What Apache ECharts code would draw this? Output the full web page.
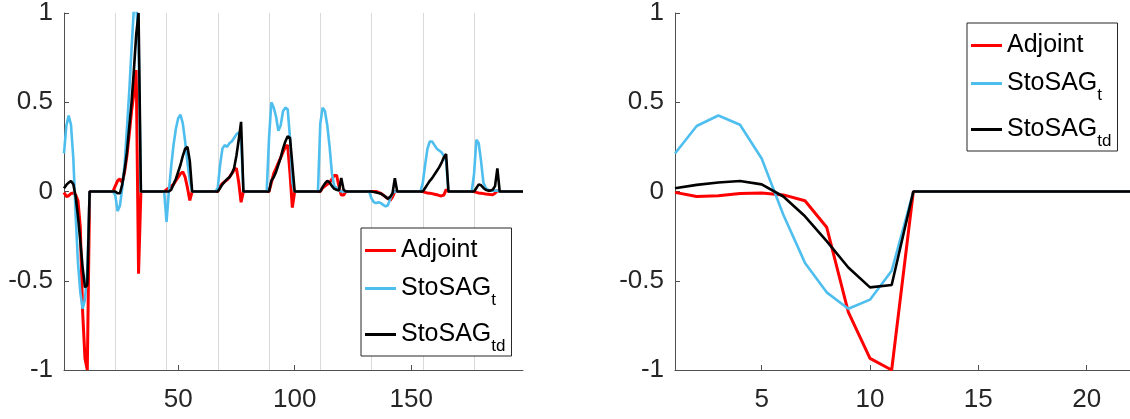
<!DOCTYPE html>
<html>
<head>
<meta charset="utf-8">
<script src="https://cdn.jsdelivr.net/npm/echarts@6/dist/echarts.min.js"></script>
<style>
  html, body { margin: 0; padding: 0; background: #fff; }
  #chart { width: 1130px; height: 419px; }
</style>
</head>
<body>
<div id="chart"></div>
<script>
// 9 control steps x 22 wells, one row per step
var adjoint = [
  -0.005, -0.028, -0.024, -0.011, -0.009, -0.019, -0.052, -0.2, -0.676, -0.935, -1.0, 0, 0, 0, 0, 0, 0, 0, 0, 0, 0, 0,
  0.03, 0.06, 0.07, 0.05, 0.11, 0.2, 0.32, 0.45, 0.55, 0.68, -0.46, 0, 0, 0, 0, 0, 0, 0, 0, 0, 0, 0,
  0.01, 0.02, 0.03, 0.04, 0.06, 0.08, 0.1, 0.11, 0.08, 0.02, -0.05, 0, 0, 0, 0, 0, 0, 0, 0, 0, 0, 0,
  0, 0.03, 0.045, 0.055, 0.065, 0.08, 0.1, 0.12, 0.13, 0.05, -0.06, 0, 0, 0, 0, 0, 0, 0, 0, 0, 0, 0,
  0, 0.05, 0.1, 0.13, 0.16, 0.19, 0.22, 0.25, 0.26, 0.1, -0.09, 0, 0, 0, 0, 0, 0, 0, 0, 0, 0, 0,
  0, 0.02, 0.03, 0.04, 0.05, 0.07, 0.09, 0.09, 0.03, -0.02, -0.02, 0, 0, 0, 0, 0, 0, 0, 0, 0, 0, 0,
  0, 0, 0, -0.005, -0.01, -0.02, -0.03, -0.04, -0.05, -0.03, 0, 0, 0, 0, 0, 0, 0, 0, 0, 0, 0, 0,
  0, -0.005, -0.008, -0.01, -0.012, -0.015, -0.018, -0.022, -0.025, -0.02, 0.01, 0, 0, 0, 0, 0, 0, 0, 0, 0, 0, 0,
  0, -0.005, -0.008, -0.01, -0.012, -0.014, -0.015, -0.017, -0.018, -0.01, 0.005, 0, 0, 0, 0, 0, 0, 0, 0, 0, 0, 0
]
var stosagT = [
  0.213, 0.367, 0.426, 0.374, 0.185, -0.13, -0.4, -0.565, -0.657, -0.606, -0.444, 0, 0, 0, 0, 0, 0, 0, 0, 0, 0, 0,
  -0.02, -0.11, -0.08, 0.02, 0.15, 0.35, 0.56, 0.8, 1.03, 1.04, 0.85, 0, 0, 0, 0, 0, 0, 0, 0, 0, 0, 0,
  -0.17, 0.0, 0.14, 0.26, 0.35, 0.41, 0.43, 0.38, 0.28, 0.16, 0.06, 0, 0, 0, 0, 0, 0, 0, 0, 0, 0, 0,
  0.02, 0.15, 0.24, 0.26, 0.25, 0.27, 0.28, 0.3, 0.32, 0.33, 0.3, 0, 0, 0, 0, 0, 0, 0, 0, 0, 0, 0,
  0.3, 0.5, 0.47, 0.42, 0.34, 0.37, 0.45, 0.47, 0.46, 0.3, 0.05, 0, 0, 0, 0, 0, 0, 0, 0, 0, 0, 0,
  0.38, 0.47, 0.45, 0.37, 0.25, 0.1, 0.03, 0.02, 0.01, 0.0, 0.0, 0, 0, 0, 0, 0, 0, 0, 0, 0, 0, 0,
  -0.04, -0.06, -0.065, -0.06, -0.065, -0.075, -0.083, -0.078, -0.04, -0.01, 0, 0, 0, 0, 0, 0, 0, 0, 0, 0, 0, 0,
  0.05, 0.15, 0.24, 0.28, 0.28, 0.26, 0.24, 0.23, 0.22, 0.2, 0.17, 0, 0, 0, 0, 0, 0, 0, 0, 0, 0, 0,
  0.1, 0.29, 0.27, 0.17, 0.05, 0.02, 0.01, 0.005, 0.005, 0.005, 0.005, 0, 0, 0, 0, 0, 0, 0, 0, 0, 0, 0
]
var stosagTd = [
  0.018, 0.037, 0.05, 0.059, 0.04, -0.028, -0.139, -0.278, -0.426, -0.537, -0.524, 0, 0, 0, 0, 0, 0, 0, 0, 0, 0, 0,
  0, -0.01, -0.01, 0.04, 0.12, 0.22, 0.36, 0.5, 0.68, 0.88, 1.0, 0, 0, 0, 0, 0, 0, 0, 0, 0, 0, 0,
  0, 0, 0.01, 0.04, 0.07, 0.11, 0.15, 0.2, 0.24, 0.25, 0.17, 0, 0, 0, 0, 0, 0, 0, 0, 0, 0, 0,
  0, 0.02, 0.04, 0.055, 0.07, 0.08, 0.1, 0.13, 0.2, 0.29, 0.39, 0, 0, 0, 0, 0, 0, 0, 0, 0, 0, 0,
  0, 0.06, 0.08, 0.11, 0.15, 0.19, 0.24, 0.28, 0.31, 0.3, 0.15, 0, 0, 0, 0, 0, 0, 0, 0, 0, 0, 0,
  0, 0.025, 0.045, 0.06, 0.05, 0.03, 0.015, 0.01, 0.005, 0.075, 0.01, 0, 0, 0, 0, 0, 0, 0, 0, 0, 0, 0,
  0, -0.003, -0.005, -0.008, -0.012, -0.02, -0.03, -0.04, -0.03, -0.01, 0.074, 0, 0, 0, 0, 0, 0, 0, 0, 0, 0, 0,
  0, 0.02, 0.04, 0.06, 0.075, 0.095, 0.115, 0.135, 0.16, 0.19, 0.21, 0, 0, 0, 0, 0, 0, 0, 0, 0, 0, 0,
  0, 0.02, 0.04, 0.035, 0.02, 0.01, 0.005, 0.005, 0.01, 0.03, 0.13, 0, 0, 0, 0, 0, 0, 0, 0, 0, 0, 0
]
var separators = [23, 45, 67, 89, 111, 133, 155, 177]
var leftTicks = [50, 100, 150]
var rightTicks = [5, 10, 15, 20]
var names = ["Adjoint", "StoSAG_t", "StoSAG_td"]
var colors = ["#ff0000", "#4dbeee", "#000000"]
var widths = [3, 2.6, 2.6]
var wells = 22

var font = "Liberation Sans, Arial, sans-serif"
var chart = echarts.init(document.getElementById("chart"), null, {renderer: "canvas"})

function pairs(arr, n) {
  return arr.slice(0, n).map(function(v, i) { return [i + 1, v] })
}

function xAxis(idx, max, ticks) {
  return {type: "value", gridIndex: idx, min: 1, max: max,
    axisLine: {show: true, onZero: false, lineStyle: {color: "#505050", width: 1}},
    axisTick: {show: true, inside: true, length: 5, customValues: ticks, lineStyle: {color: "#505050"}},
    axisLabel: {customValues: ticks, fontSize: 26, color: "#262626", fontFamily: font, margin: 17},
    splitLine: {show: false}}
}
function yAxis(idx) {
  return {type: "value", gridIndex: idx, min: -1, max: 1, interval: 0.5,
    axisLine: {show: true, onZero: false, lineStyle: {color: "#505050", width: 1}},
    axisTick: {show: true, inside: true, length: 5, lineStyle: {color: "#505050"}},
    axisLabel: {fontSize: 26, color: "#262626", fontFamily: font, margin: 11},
    splitLine: {show: false}}
}
function legend(left, top) {
  return {data: names, orient: "vertical", left: left, top: top,
    backgroundColor: "#fff", borderColor: "#262626", borderWidth: 1,
    padding: [10, 6, 1, 4], itemGap: 13, itemWidth: 31, itemHeight: 3, icon: "rect",
    selectedMode: false,
    textStyle: {fontSize: 25, color: "#000", fontFamily: font,
      rich: {a: {fontSize: 25, lineHeight: 30, fontFamily: font},
             m: {fontSize: 25, fontFamily: font},
             s: {fontSize: 17, padding: [24, 0, 0, 0], fontFamily: font}}},
    formatter: function(name) {
      var p = name.split("_")
      return p.length > 1 ? "{m|" + p[0] + "}{s|" + p[1] + "}" : "{a|" + p[0] + "}"
    }}
}

var series = []
var all = [adjoint, stosagT, stosagTd]
;[0, 1].forEach(function(g) {
  all.forEach(function(arr, k) {
    series.push({name: names[k], type: "line", xAxisIndex: g, yAxisIndex: g,
      data: pairs(arr, g === 0 ? arr.length : wells), symbol: "none", showSymbol: false,
      lineStyle: {color: colors[k], width: widths[k]}, itemStyle: {color: colors[k]},
      z: 3 + k, animation: false,
      markLine: g === 0 && k === 0 ? {silent: true, symbol: ["none", "none"], z: 1, animation: false,
        label: {show: false}, lineStyle: {color: "#d9d9d9", width: 1, type: "solid"},
        emphasis: {disabled: true},
        data: separators.map(function(v) { return {xAxis: v} })} : undefined})
  })
})

chart.setOption({
  animation: false,
  grid: [{left: 64, top: 10, width: 459, height: 360},
         {left: 675, top: 10, width: 458, height: 360}],
  xAxis: [xAxis(0, 198, leftTicks), xAxis(1, 22, rightTicks)],
  yAxis: [yAxis(0), yAxis(1)],
  legend: [legend(361, 228), legend(967, 23)],
  series: series
})
</script>
</body>
</html>
